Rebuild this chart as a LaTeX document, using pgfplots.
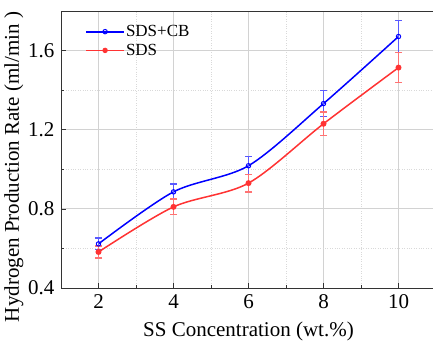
\documentclass[border=0pt]{standalone}
\usepackage{pgfplots}
\pgfplotsset{compat=1.18}
\usepackage{fontspec}
\setmainfont{Liberation Serif}
\begin{document}
\begin{tikzpicture}
\begin{axis}[
  name=ax,
  scale only axis,
  width=375pt, height=277pt,
  xmin=1, xmax=11, ymin=0.4, ymax=1.8,
  xtick={2,4,6,8,10},
  minor xtick={3,5,7,9},
  ytick={0.4,0.8,1.2,1.6},
  minor ytick={0.6,1.0,1.4},
  xtick pos=bottom, ytick pos=left,
  tick align=inside,
  major tick length=5pt, minor tick length=3pt,
  axis line style={black!80, line width=0.8pt},
  tick style={black!80, line width=0.7pt},
  grid=both,
  major grid style={gray!35, line width=0.8pt},
  minor grid style={gray!30, dotted, line width=0.6pt},
  ticklabel style={font=\fontsize{21}{23}\selectfont},
  xticklabel style={yshift=-3pt},
  yticklabel style={xshift=-3pt},
  /pgf/number format/assume math mode=true,
  yticklabel style={/pgf/number format/fixed, /pgf/number format/fixed zerofill, /pgf/number format/precision=1},
  xlabel={SS Concentration (wt.\%)},
  ylabel={Hydrogen Production Rate (ml/min )},
  label style={font=\fontsize{21}{23}\selectfont},
  xlabel style={yshift=-6pt},
  ylabel style={at={(ticklabel cs:0.437)}, yshift=-2pt},
  legend style={draw=none, fill=none, at={(0.056,0.96)}, anchor=north west, font=\fontsize{17}{17}\selectfont, row sep=4pt, nodes={inner sep=1pt}},
  legend cell align=left,
  legend image code/.code={\draw[#1, line width=1.8pt] (0pt,0pt) -- (38pt,0pt); \draw[#1, line width=1pt, mark repeat=1] plot coordinates {(19pt,0pt)};},
]
\addplot[blue, line width=1.5pt, smooth, tension=0.5, mark=o, mark size=2.2pt, mark options={fill=white, line width=1pt},
  error bars/.cd, y dir=both, y explicit, error bar style={blue!65, line width=1.2pt}, error mark options={rotate=90, mark size=3.5pt, blue!65, line width=1.2pt}]
  coordinates {(2,0.623) +- (0,0.03) (4,0.886) +- (0,0.04) (6,1.018) +- (0,0.045) (8,1.332) +- (0,0.065) (10,1.671) +- (0,0.08)};
\addlegendentry{SDS+CB}
\addplot[red!80, line width=1.5pt, smooth, tension=0.5, mark=*, mark size=2.2pt, mark options={fill=red!80},
  error bars/.cd, y dir=both, y explicit, error bar style={red!55, line width=1.2pt}, error mark options={rotate=90, mark size=3.5pt, red!55, line width=1.2pt}]
  coordinates {(2,0.582) +- (0,0.03) (4,0.81) +- (0,0.04) (6,0.93) +- (0,0.045) (8,1.23) +- (0,0.06) (10,1.514) +- (0,0.075)};
\addlegendentry{SDS}
\end{axis}
\pgfresetboundingbox
\path ([xshift=-61pt,yshift=-52pt]ax.south west) rectangle ([xshift=-3pt,yshift=11pt]ax.north east);
\end{tikzpicture}
\end{document}
